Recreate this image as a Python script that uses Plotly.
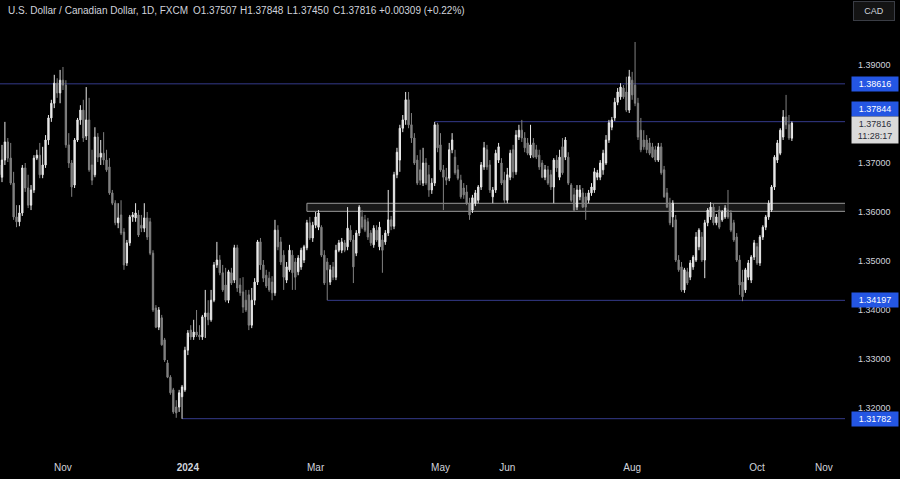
import plotly.graph_objects as go
import pandas as pd

# ---- data (USD/CAD daily, FXCM) ----
opens = [1.3676,1.3671,1.3706,1.3743,1.3710,1.3659,1.3590,1.3580,1.3598,1.3690,
1.3649,1.3614,1.3645,1.3710,1.3716,1.3676,1.3696,1.3747,1.3792,1.3822,
1.3863,1.3843,1.3869,1.3859,1.3737,1.3700,1.3655,1.3747,1.3788,1.3808,
1.3755,1.3788,1.3696,1.3676,1.3753,1.3712,1.3720,1.3706,1.3692,1.3639,
1.3618,1.3578,1.3594,1.3559,1.3496,1.3537,1.3590,1.3588,1.3594,1.3573,
1.3567,1.3588,1.3580,1.3516,1.3404,1.3365,1.3384,1.3339,1.3292,1.3263,
1.3237,1.3202,1.3202,1.3223,1.3237,1.3318,1.3359,1.3345,1.3355,1.3349,
1.3345,1.3386,1.3394,1.3380,1.3420,1.3492,1.3502,1.3476,1.3451,1.3420,
1.3476,1.3461,1.3527,1.3451,1.3437,1.3420,1.3431,1.3369,1.3420,1.3457,
1.3539,1.3492,1.3471,1.3465,1.3457,1.3435,1.3563,1.3539,1.3512,1.3461,
1.3482,1.3512,1.3498,1.3478,1.3488,1.3502,1.3527,1.3578,1.3547,1.3573,
1.3569,1.3569,1.3512,1.3498,1.3457,1.3488,1.3467,1.3522,1.3522,1.3537,
1.3529,1.3563,1.3543,1.3516,1.3557,1.3590,1.3584,1.3580,1.3557,1.3533,
1.3563,1.3529,1.3543,1.3539,1.3557,1.3584,1.3571,1.3676,1.3706,1.3771,
1.3788,1.3829,1.3778,1.3751,1.3706,1.3686,1.3659,1.3700,1.3676,1.3645,
1.3659,1.3778,1.3737,1.3686,1.3671,1.3669,1.3727,1.3712,1.3686,1.3665,
1.3649,1.3641,1.3618,1.3604,1.3618,1.3624,1.3651,1.3692,1.3727,1.3696,
1.3631,1.3645,1.3706,1.3700,1.3665,1.3624,1.3671,1.3727,1.3682,1.3753,
1.3767,1.3751,1.3741,1.3716,1.3741,1.3727,1.3716,1.3700,1.3671,1.3686,
1.3676,1.3651,1.3706,1.3671,1.3733,1.3712,1.3712,1.3655,1.3635,1.3610,
1.3631,1.3639,1.3631,1.3624,1.3639,1.3645,1.3671,1.3671,1.3686,1.3700,
1.3747,1.3773,1.3792,1.3824,1.3835,1.3853,1.3845,1.3808,1.3869,1.3859,
1.3822,1.3767,1.3747,1.3747,1.3741,1.3733,1.3727,1.3706,1.3733,1.3686,
1.3639,1.3618,1.3590,1.3584,1.3502,1.3488,1.3441,1.3478,1.3467,1.3488,
1.3502,1.3529,1.3549,1.3502,1.3578,1.3590,1.3610,1.3578,1.3604,1.3584,
1.3590,1.3604,1.3598,1.3578,1.3549,1.3502,1.3457,1.3441,1.3467,1.3461,
1.3508,1.3529,1.3496,1.3549,1.3569,1.3590,1.3604,1.3651,1.3706,1.3720,
1.3753,1.3794,1.3778,1.37507]
highs = [1.3706,1.3737,1.3784,1.3751,1.3741,1.3682,1.3614,1.3614,1.3696,1.3700,
1.3676,1.3655,1.3716,1.3727,1.3741,1.3733,1.3757,1.3798,1.3829,1.3880,
1.3873,1.3890,1.3896,1.3869,1.3761,1.3706,1.3751,1.3792,1.3818,1.3829,
1.3855,1.3833,1.3727,1.3773,1.3761,1.3747,1.3763,1.3727,1.3710,1.3645,
1.3624,1.3618,1.3624,1.3567,1.3543,1.3594,1.3600,1.3618,1.3604,1.3594,
1.3618,1.3600,1.3588,1.3522,1.3410,1.3406,1.3390,1.3343,1.3298,1.3267,
1.3241,1.3216,1.3237,1.3247,1.3325,1.3359,1.3369,1.3380,1.3400,1.3369,
1.3390,1.3441,1.3420,1.3441,1.3498,1.3539,1.3512,1.3492,1.3486,1.3482,
1.3486,1.3533,1.3533,1.3465,1.3467,1.3441,1.3441,1.3445,1.3465,1.3543,
1.3547,1.3502,1.3482,1.3478,1.3469,1.3584,1.3573,1.3549,1.3522,1.3498,
1.3533,1.3522,1.3506,1.3512,1.3527,1.3533,1.3584,1.3590,1.3580,1.3600,
1.3604,1.3573,1.3522,1.3506,1.3492,1.3498,1.3533,1.3543,1.3547,1.3543,
1.3610,1.3573,1.3553,1.3563,1.3614,1.3604,1.3594,1.3588,1.3563,1.3573,
1.3573,1.3580,1.3553,1.3563,1.3645,1.3592,1.3682,1.3731,1.3778,1.3798,
1.3845,1.3845,1.3802,1.3761,1.3716,1.3727,1.3731,1.3710,1.3696,1.3669,
1.3784,1.3782,1.3761,1.3696,1.3690,1.3741,1.3761,1.3727,1.3696,1.3676,
1.3659,1.3655,1.3629,1.3635,1.3645,1.3655,1.3702,1.3743,1.3737,1.3706,
1.3651,1.3727,1.3741,1.3710,1.3682,1.3690,1.3727,1.3737,1.3767,1.3778,
1.3788,1.3763,1.3751,1.3778,1.3751,1.3737,1.3727,1.3706,1.3696,1.3694,
1.3686,1.3710,1.3716,1.3727,1.3751,1.3753,1.3722,1.3659,1.3649,1.3655,
1.3655,1.3649,1.3639,1.3645,1.3659,1.3690,1.3686,1.3706,1.3727,1.3757,
1.3788,1.3794,1.3833,1.3853,1.3863,1.3859,1.3876,1.3890,1.3886,1.3947,
1.3833,1.3792,1.3767,1.3757,1.3751,1.3741,1.3735,1.3741,1.3741,1.3694,
1.3649,1.3629,1.3624,1.3594,1.3512,1.3498,1.3486,1.3486,1.3502,1.3512,
1.3559,1.3567,1.3559,1.3584,1.3608,1.3620,1.3618,1.3596,1.3612,1.3604,
1.3614,1.3645,1.3604,1.3584,1.3557,1.3512,1.3482,1.3486,1.3502,1.3512,
1.3543,1.3537,1.3553,1.3573,1.3594,1.3624,1.3655,1.3716,1.3747,1.3771,
1.3808,1.3839,1.3798,1.37848]
lows = [1.3661,1.3661,1.3696,1.3702,1.3655,1.3584,1.3569,1.3571,1.3592,1.3641,
1.3608,1.3604,1.3639,1.3706,1.3669,1.3669,1.3690,1.3737,1.3784,1.3812,
1.3833,1.3822,1.3849,1.3731,1.3690,1.3631,1.3649,1.3743,1.3778,1.3743,
1.3747,1.3682,1.3655,1.3671,1.3702,1.3696,1.3696,1.3682,1.3635,1.3614,
1.3573,1.3567,1.3553,1.3482,1.3490,1.3531,1.3580,1.3580,1.3549,1.3559,
1.3559,1.3543,1.3512,1.3396,1.3363,1.3359,1.3327,1.3294,1.3261,1.3227,
1.3188,1.3180,1.3192,1.3178,1.3233,1.3308,1.3339,1.3339,1.3345,1.3339,
1.3339,1.3343,1.3369,1.3376,1.3416,1.3486,1.3471,1.3437,1.3416,1.3414,
1.3451,1.3455,1.3437,1.3429,1.3394,1.3396,1.3359,1.3363,1.3410,1.3451,
1.3482,1.3457,1.3445,1.3437,1.3420,1.3429,1.3522,1.3492,1.3441,1.3455,
1.3478,1.3441,1.3441,1.3471,1.3482,1.3496,1.3522,1.3543,1.3539,1.3567,
1.3563,1.3508,1.3451,1.3420,1.3451,1.3461,1.3461,1.3518,1.3516,1.3518,
1.3522,1.3539,1.3455,1.3510,1.3551,1.3565,1.3559,1.3543,1.3531,1.3527,
1.3539,1.3522,1.3476,1.3533,1.3551,1.3563,1.3565,1.3669,1.3682,1.3763,
1.3778,1.3771,1.3741,1.3696,1.3655,1.3655,1.3653,1.3655,1.3631,1.3637,
1.3653,1.3722,1.3682,1.3604,1.3655,1.3663,1.3720,1.3676,1.3665,1.3627,
1.3627,1.3614,1.3584,1.3598,1.3612,1.3618,1.3645,1.3686,1.3686,1.3639,
1.3618,1.3639,1.3700,1.3655,1.3618,1.3618,1.3665,1.3669,1.3676,1.3747,
1.3743,1.3722,1.3716,1.3710,1.3710,1.3708,1.3686,1.3669,1.3665,1.3655,
1.3645,1.3618,1.3682,1.3665,1.3676,1.3706,1.3655,1.3620,1.3600,1.3604,
1.3624,1.3608,1.3584,1.3618,1.3633,1.3639,1.3665,1.3665,1.3676,1.3696,
1.3741,1.3767,1.3786,1.3818,1.3829,1.3831,1.3804,1.3802,1.3829,1.3816,
1.3747,1.3722,1.3727,1.3720,1.3716,1.3710,1.3702,1.3702,1.3676,1.3629,
1.3608,1.3573,1.3569,1.3498,1.3478,1.3437,1.3435,1.3451,1.3461,1.3482,
1.3498,1.3522,1.3498,1.3465,1.3571,1.3584,1.3573,1.3573,1.3565,1.3580,
1.3586,1.3586,1.3559,1.3539,1.3498,1.3431,1.3418,1.3435,1.3461,1.3455,
1.3502,1.3492,1.3490,1.3543,1.3563,1.3584,1.3600,1.3645,1.3700,1.3716,
1.3747,1.3769,1.3747,1.37450]
closes = [1.3696,1.3706,1.3743,1.3710,1.3659,1.3590,1.3580,1.3598,1.3690,1.3649,
1.3614,1.3645,1.3710,1.3716,1.3676,1.3696,1.3747,1.3792,1.3822,1.3863,
1.3843,1.3869,1.3859,1.3737,1.3700,1.3651,1.3747,1.3788,1.3808,1.3751,
1.3788,1.3686,1.3665,1.3753,1.3712,1.3720,1.3706,1.3686,1.3639,1.3618,
1.3578,1.3588,1.3557,1.3492,1.3537,1.3590,1.3594,1.3598,1.3553,1.3567,
1.3588,1.3549,1.3516,1.3400,1.3365,1.3400,1.3329,1.3298,1.3263,1.3231,
1.3192,1.3190,1.3231,1.3243,1.3318,1.3353,1.3345,1.3355,1.3349,1.3345,
1.3386,1.3394,1.3380,1.3420,1.3492,1.3502,1.3476,1.3441,1.3420,1.3478,
1.3455,1.3527,1.3445,1.3435,1.3406,1.3400,1.3369,1.3420,1.3457,1.3539,
1.3492,1.3465,1.3449,1.3441,1.3435,1.3563,1.3529,1.3498,1.3467,1.3488,
1.3522,1.3476,1.3467,1.3506,1.3522,1.3529,1.3578,1.3547,1.3573,1.3590,
1.3598,1.3512,1.3455,1.3482,1.3482,1.3467,1.3522,1.3537,1.3539,1.3522,
1.3567,1.3543,1.3488,1.3557,1.3610,1.3569,1.3563,1.3549,1.3537,1.3567,
1.3543,1.3569,1.3522,1.3557,1.3584,1.3571,1.3676,1.3722,1.3771,1.3788,
1.3829,1.3778,1.3751,1.3700,1.3659,1.3665,1.3700,1.3659,1.3645,1.3659,
1.3778,1.3731,1.3686,1.3671,1.3665,1.3727,1.3747,1.3680,1.3669,1.3631,
1.3635,1.3618,1.3594,1.3629,1.3639,1.3651,1.3696,1.3731,1.3692,1.3645,
1.3645,1.3720,1.3733,1.3659,1.3624,1.3676,1.3720,1.3682,1.3757,1.3767,
1.3751,1.3731,1.3720,1.3737,1.3712,1.3712,1.3692,1.3671,1.3686,1.3659,
1.3651,1.3706,1.3690,1.3712,1.3680,1.3747,1.3659,1.3624,1.3604,1.3645,
1.3645,1.3610,1.3610,1.3639,1.3651,1.3682,1.3680,1.3700,1.3720,1.3747,
1.3782,1.3788,1.3824,1.3845,1.3855,1.3835,1.3808,1.3876,1.3839,1.3822,
1.3753,1.3727,1.3733,1.3727,1.3720,1.3712,1.3706,1.3733,1.3680,1.3631,
1.3610,1.3578,1.3618,1.3502,1.3482,1.3441,1.3482,1.3455,1.3496,1.3508,
1.3549,1.3563,1.3502,1.3578,1.3604,1.3610,1.3578,1.3590,1.3569,1.3600,
1.3608,1.3590,1.3563,1.3543,1.3502,1.3451,1.3427,1.3482,1.3496,1.3508,
1.3537,1.3496,1.3549,1.3569,1.3590,1.3618,1.3651,1.3712,1.3741,1.3767,
1.3794,1.3778,1.3751,1.37816]

dates = pd.bdate_range("2023-10-02", periods=len(closes))

# horizontal levels drawn on the chart
level_prices = [1.38616, 1.37844, 1.34197, 1.31782]
level_start = [None, dates[150], dates[113], dates[63]]
zone_low, zone_high = 1.36014, 1.36178
zone_start = dates[106]

ytick_vals = [1.32, 1.33, 1.34, 1.35, 1.36, 1.37, 1.39]
xtick_dates = ["2023-11-01", "2024-01-01", "2024-03-01", "2024-05-01",
               "2024-06-03", "2024-08-01", "2024-10-01", "2024-11-01"]
xtick_text = ["Nov", "<b>2024</b>", "Mar", "May", "Jun", "Aug", "Oct", "Nov"]

header = "U.S. Dollar / Canadian Dollar, 1D, FXCM"
ohlc_text = [("O", opens[-1]), ("H", highs[-1]), ("L", lows[-1]), ("C", closes[-1])]
change = closes[-1] - opens[-1]
last_time = "11:28:17"

FONT = "Liberation Sans, Arial, sans-serif"
TXT = "#d1d4dc"
UP = "#e8e8e8"
DOWN = "#808080"
LINE_BLUE = "#343a8a"
LABEL_BLUE = "#2456e3"

fig = go.Figure()
fig.add_trace(go.Candlestick(
    x=dates, open=opens, high=highs, low=lows, close=closes,
    increasing=dict(line=dict(color=UP, width=1), fillcolor=UP),
    decreasing=dict(line=dict(color=DOWN, width=1), fillcolor=DOWN),
    whiskerwidth=0, hoverinfo="skip", showlegend=False,
))

shapes = []
# support / resistance zone
shapes.append(dict(type="rect", xref="x", yref="y", x0=zone_start, x1="2025-01-31",
                   y0=zone_low, y1=zone_high, fillcolor="rgba(110,110,110,0.22)",
                   line=dict(color="#9a9a9a", width=1), layer="below"))
for p, s in zip(level_prices, level_start):
    if s is None:
        shapes.append(dict(type="line", xref="paper", yref="y", x0=0, x1=1, y0=p, y1=p,
                           line=dict(color=LINE_BLUE, width=1), layer="below"))
    else:
        shapes.append(dict(type="line", xref="x", yref="y", x0=s, x1="2025-01-31", y0=p, y1=p,
                           line=dict(color=LINE_BLUE, width=1), layer="below"))

annotations = []
# header
annotations.append(dict(xref="paper", yref="paper", x=0, y=1, xanchor="left", yanchor="middle",
                        xshift=6, yshift=-10, text=header, showarrow=False,
                        font=dict(family=FONT, size=10, color=TXT)))
ohlc_x = [191, 238, 285, 331]
for (k, v), xs in zip(ohlc_text, ohlc_x):
    annotations.append(dict(xref="paper", yref="paper", x=0, y=1, xanchor="left", yanchor="middle",
                            xshift=xs, yshift=-10, text=f"{k}{v:.5f}", showarrow=False,
                            font=dict(family=FONT, size=10, color=TXT)))
annotations.append(dict(xref="paper", yref="paper", x=0, y=1, xanchor="left", yanchor="middle",
                        xshift=377, yshift=-10,
                        text=f"{change:+.5f} ({change / opens[-1] * 100:+.2f}%)", showarrow=False,
                        font=dict(family=FONT, size=10, color=TXT)))

# price labels on the axis
label_shift = {1.37844: 13}
for p in level_prices:
    annotations.append(dict(xref="paper", yref="y", x=1, y=p, xanchor="left", yanchor="middle",
                            xshift=6, yshift=label_shift.get(p, 0), text=f"{p:.5f}",
                            showarrow=False, bgcolor=LABEL_BLUE, width=44, height=12,
                            borderpad=1, font=dict(family=FONT, size=9, color="#ffffff")))
annotations.append(dict(xref="paper", yref="y", x=1, y=closes[-1], xanchor="left", yanchor="top",
                        xshift=6, yshift=7, text=f"{closes[-1]:.5f}<br>{last_time}",
                        showarrow=False, bgcolor="#dadada", width=44, height=24, borderpad=1,
                        font=dict(family=FONT, size=9, color="#2a2e39")))
annotations.append(dict(xref="paper", yref="paper", x=1, y=1, xanchor="left", yanchor="top",
                        xshift=8, yshift=-1, text="CAD", showarrow=False, bgcolor="#141414",
                        bordercolor="#3a3d45", borderwidth=1, width=38, height=16, borderpad=1,
                        font=dict(family=FONT, size=9, color=TXT)))

fig.update_layout(
    width=900, height=479,
    margin=dict(l=0, r=55, t=0, b=27),
    paper_bgcolor="#000000", plot_bgcolor="#000000",
    shapes=shapes, annotations=annotations,
    boxgap=0.35,
    xaxis=dict(
        type="date",
        rangebreaks=[dict(bounds=["sat", "mon"])],
        range=["2023-10-02 07:30", "2024-11-12 07:00"],
        rangeslider=dict(visible=False),
        showgrid=False, zeroline=False, showline=False,
        tickvals=xtick_dates, ticktext=xtick_text,
        tickfont=dict(family=FONT, size=10, color=TXT),
        ticks="", ticklabelstandoff=8,
    ),
    yaxis=dict(
        side="right",
        range=[1.31102, 1.40327],
        showgrid=False, zeroline=False, showline=False,
        tickvals=ytick_vals, tickformat=".5f",
        tickfont=dict(family=FONT, size=9, color=TXT),
        ticks="", ticklabelstandoff=12,
    ),
    font=dict(family=FONT, color=TXT),
    hovermode=False,
)

fig.write_html(
    "out.html",
    config={"displayModeBar": False},
    post_script="document.body.style.margin='0';document.body.style.background='#000';",
)
